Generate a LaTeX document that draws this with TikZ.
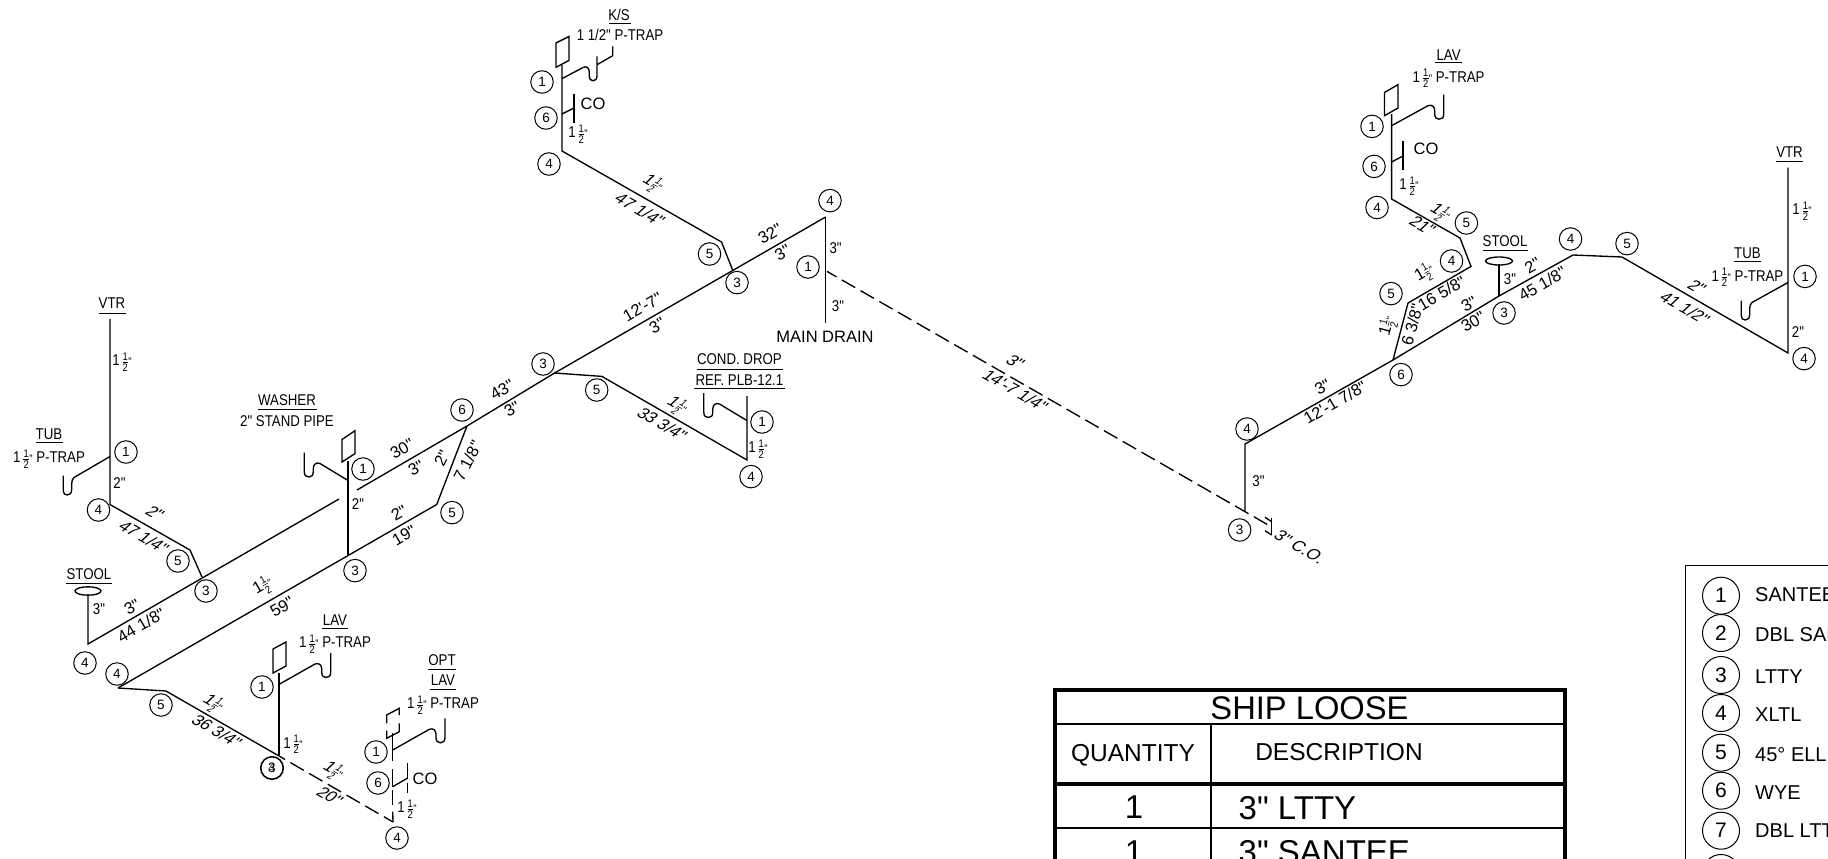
\documentclass[tikz,border=0pt]{standalone}
\usepackage{fontspec}
\setmainfont[Ligatures=TeXOff]{Liberation Sans}
\newfontfamily\nar[FakeStretch=0.85,Ligatures=TeXOff]{Liberation Sans}
\newcommand\fs[1]{\fontsize{#1}{#1}\selectfont}
\newcommand\hf{\makebox[6.2pt]{\nar\fs{11}\makebox[0pt]{\raisebox{5.6pt}{1}}\makebox[0pt]{\raisebox{-5.6pt}{2}}\makebox[0pt]{\rule[3.7pt]{5.5pt}{.5pt}}}}
\newcommand\oh{1\,\hf{\fs{11}"}}
\newcommand\ohr{1\hf{\fs{10}"}}
\tikzset{
  x=1pt,y=-1pt,
  pipe/.style={line width=1.35pt,line join=miter},
  dash1/.style={pipe,dash pattern=on 15.4pt off 6.2pt},
  bub/.style={circle,draw,line width=1pt,minimum size=22.5pt,inner sep=0pt,font=\fs{13.5}},
  lbub/.style={circle,draw,line width=1pt,minimum size=37pt,inner sep=0pt,font=\fs{21}},
  nm/.style={inner sep=0pt,font=\nar\fs{15.6}},
  wide/.style={inner sep=0pt,font=\fs{16.5}},
  up/.style={inner sep=0pt,font=\fs{16.5},rotate=30},
  dn/.style={inner sep=0pt,font=\fs{16.5},rotate=-30,xslant=.3},
  ul/.style={line width=1pt},
  tb/.style={line width=1.5pt},
  tbk/.style={line width=4pt},
  trapa/.pic={\draw[pic actions] (0,0) .. controls (-1.5,1.5) and (-2.3,3) .. (-2.3,6) -- (-2.3,11) .. controls (-2.3,16) and (-4,17.5) .. (-6.7,17.5) .. controls (-9.5,17.5) and (-10.7,16) .. (-10.7,13) -- (-10.7,-2);},
  trapb/.pic={\draw[pic actions] (0,0) .. controls (4,-1.5) and (6.7,1) .. (6.7,5) -- (6.7,8) .. controls (6.7,12) and (8.5,13.5) .. (11,13.5) .. controls (14,13.5) and (15.7,12) .. (15.7,8) -- (15.7,-11);},
}
\begin{document}
\begin{tikzpicture}
\useasboundingbox (0,0) rectangle (1828,859);
\clip (0,0) rectangle (1828,859);

% ---------- left riser group
\coordinate (vtrT) at (110,319); \coordinate (vtrB) at (110,504.5);
\coordinate (tubJ) at (110,456.5); \coordinate (tubA) at (74,477.5);
\coordinate (e1) at (190,550); \coordinate (t1) at (202,577);
\draw[pipe] (vtrT) -- (vtrB) -- (e1) -- (t1);
\draw[pipe] (tubJ) -- (tubA);
\pic[pipe] at (tubA) {trapa};
\node[nm] (tVtr) at (112,303) {VTR}; \draw[ul] (98.5,313) -- (126,313);
\node[nm] (tTub) at (49,434) {TUB}; \draw[ul] (36,442.5) -- (63,442.5);
\node[nm] (tTubT) at (49,459) {\oh\ P-TRAP};
\node[nm] (d1) at (122,362) {\oh};
\node[nm] (d2) at (119.5,483) {2"};
\node[dn] (d3) at (155,513) {2"};
\node[dn] (d4) at (144,537) {47 1/4"};
\node[bub] (b1) at (126,452) {1};
\node[bub] (b2) at (98.5,510) {4};
\node[bub] (b3) at (178,561) {5};
\node[bub] (b4) at (206,591) {3};

% stool + upper main
\coordinate (stT) at (88,594); \coordinate (stB) at (88,644);
\coordinate (mEndL) at (339,499); \coordinate (mGapR) at (357,490);
\coordinate (wyeL) at (467,426); \coordinate (c3m) at (554.6,373);
\coordinate (mainE) at (825.6,217);
\draw[pipe] (stT) -- (stB) -- (mEndL);
\draw[pipe] (mGapR) -- (wyeL) -- (c3m) -- (mainE);
\draw[pipe] (88,591) ellipse [x radius=13,y radius=4.2];
\node[nm] (tSt) at (89,574) {STOOL}; \draw[ul] (66,583) -- (112,583);
\node[nm] (d5) at (99,609) {3"};
\node[up] (d6) at (132,607) {3"};
\node[up] (d7) at (141,625) {44 1/8"};
\node[bub] (b5) at (85,663) {4};

% lower line with washer
\coordinate (l0) at (118,688); \coordinate (l1) at (436.7,504.5);
\draw[pipe] (l0) -- (l1) -- (wyeL);
\coordinate (wT) at (348,461); \coordinate (wB) at (348,555);
\draw[pipe] (wT) -- (wB);
\draw[pipe] (342,439.5) -- (355,430.7) -- (355,453.6) -- (342,462) -- cycle;
\coordinate (wJ) at (348,480.5); \coordinate (wA) at (320,463.5);
\draw[pipe] (wJ) -- (wA);
\pic[pipe,xscale=-1] at (wA) {trapb};
\node[nm] (tW) at (287,400) {WASHER}; \draw[ul] (258,409) -- (317,409);
\node[nm] (tW2) at (287,421) {2" STAND PIPE};
\node[nm] (d8) at (358,504.5) {2"};
\node[up] (d9) at (402,449) {30"};
\node[up] (d10) at (416,468) {3"};
\node[up,rotate=33] (d11) at (442,458) {2"};
\node[up,rotate=33] (d12) at (467.5,461) {7 1/8"};
\node[up] (d13) at (502,390) {43"};
\node[up] (d14) at (512,409) {3"};
\node[up] (d15) at (399,513) {2"};
\node[up] (d16) at (404,535.5) {19"};
\node[up] (d17) at (263,586) {\ohr};
\node[up] (d18) at (282,607) {59"};
\node[bub] (b6) at (363,469) {1};
\node[bub] (b7) at (462,410) {6};
\node[bub] (b8) at (452,512.6) {5};
\node[bub] (b9) at (355,570.6) {3};
\node[bub] (b10) at (117,674) {4};

% lower LAV
\coordinate (ll1) at (166,691); \coordinate (ll2) at (279,756);
\draw[pipe] (l0) -- (ll1) -- (ll2);
\coordinate (lvT) at (279,673);
\draw[pipe] (lvT) -- (ll2);
\draw[pipe] (273,649) -- (286,642) -- (286,666) -- (273,673) -- cycle;
\coordinate (lvJ) at (279,684.4); \coordinate (lvA) at (315,664);
\draw[pipe] (lvJ) -- (lvA);
\pic[pipe] at (lvA) {trapb};
\node[nm] (tL) at (335,620) {LAV}; \draw[ul] (322,628) -- (348,628);
\node[nm] (tL2) at (335,644) {\oh\ P-TRAP};
\node[nm] (d19) at (293,744.5) {\oh};
\node[dn] (d20) at (213,704) {\ohr};
\node[dn] (d21) at (217,731) {36 3/4"};
\node[bub] (b11) at (262,687) {1};
\node[bub] (b12) at (161,705) {5};
\node[bub,line width=1.5pt] (b13) at (272,768) {3};
\node[inner sep=0pt,font=\fs{13.5},text opacity=.7] (b13b) at (272,768) {4};

% optional LAV (dashed)
\coordinate (oC) at (279,756); \coordinate (oE) at (393,822);
\draw[dash1,dash phase=8.4pt] (oC) -- (oE);
\coordinate (oV1) at (392.7,733); \coordinate (oV2) at (392.7,760.7);
\coordinate (oV3) at (392.7,769.3); \coordinate (oV4) at (392.7,786.7);
\coordinate (oV5) at (392.7,790); \coordinate (oV6) at (392.7,805);
\coordinate (oV7) at (392.7,811.7);
\draw[pipe] (oV1) -- (oV2);
\draw[pipe] (oV3) -- (oV4);
\draw[pipe] (oV5) -- (oV6);
\draw[pipe] (oV7) -- (oE);
\draw[pipe] (386.7,723.3) -- (386.7,715) -- (399.3,708.3) -- (399.3,715);
\draw[pipe] (399.3,723.3) -- (399.3,731.7) -- (386.7,738.3) -- (386.7,730.7);
\coordinate (oJ) at (392.7,750); \coordinate (oA) at (429.3,729.3);
\draw[pipe] (oJ) -- (oA);
\pic[pipe] at (oA) {trapb};
\coordinate (oCoJ) at (392.7,786.7); \coordinate (oCoA) at (407.7,778);
\draw[pipe] (oCoJ) -- (oCoA);
\draw[pipe] (407.7,763) -- (407.7,778);
\draw[pipe] (407.7,783) -- (407.7,792.7);
\node[nm] (tO) at (442,660) {OPT}; \draw[ul] (428,669) -- (456,669);
\node[nm] (tO1) at (443,680.6) {LAV}; \draw[ul] (430,689) -- (456,689);
\node[nm] (tO2) at (443,705) {\oh\ P-TRAP};
\node[wide] (tO3) at (425,778.5) {CO};
\node[nm] (d22) at (407,809) {\oh};
\node[dn] (d23) at (333,771) {\ohr};
\node[dn] (d24) at (330,796) {20"};
\node[bub] (b14) at (376,752) {1};
\node[bub] (b15) at (378,783) {6};
\node[bub] (b16) at (397,838) {4};

% ---------- K/S group
\coordinate (ksT) at (562,65); \coordinate (ksB) at (562,151);
\coordinate (ks5) at (721.5,242); \coordinate (ks3) at (733,271);
\draw[pipe] (ksT) -- (ksB) -- (ks5) -- (ks3);
\draw[pipe] (556,43) -- (569,36.5) -- (569,60.4) -- (556,67.3) -- cycle;
\coordinate (ksJ) at (562,78.6); \coordinate (ksA) at (583.5,67.3);
\draw[pipe] (ksJ) -- (ksA);
\pic[pipe,xscale=.86] at (ksA) {trapb};
\coordinate (ksS) at (597,64.7); \coordinate (ksU) at (612.7,55.7); \coordinate (ksV) at (612.7,46.4);
\draw[pipe] (ksS) -- (ksU) -- (ksV);
\coordinate (ksCJ) at (562,114); \coordinate (ksCA) at (574,108);
\draw[pipe] (ksCJ) -- (ksCA);
\draw[line width=2pt] (574,93.5) -- (574,110);
\draw[pipe] (574,110) -- (574,122.7);
\node[nm] (tK) at (619,15) {K/S}; \draw[ul] (609,24) -- (631,24);
\node[nm] (tK2) at (620,35) {1 1/2" P-TRAP};
\node[wide] (tK3) at (593,104) {CO};
\node[nm] (d25) at (578,134) {\oh};
\node[dn] (d26) at (652.5,184) {\ohr};
\node[dn] (d27) at (640,209.6) {47 1/4"};
\node[bub] (b17) at (542,82) {1};
\node[bub] (b18) at (546,118) {6};
\node[bub] (b19) at (549,164) {4};
\node[bub] (b20) at (709.5,254) {5};
\node[bub] (b21) at (737,282.6) {3};

% ---------- main drain
\coordinate (mdB) at (825.6,323); \coordinate (mdJ) at (827,271.4);
\draw[pipe] (mainE) -- (mdB);
\node[up] (d28) at (770,234) {32"};
\node[up] (d29) at (782.5,252.7) {3"};
\node[up] (d30) at (642.5,307) {12'-7"};
\node[up] (d31) at (657,325.7) {3"};
\node[nm] (d32) at (835.6,248) {3"};
\node[nm] (d33) at (838,306) {3"};
\node[wide] (tM) at (825,336.6) {MAIN DRAIN};
\node[bub] (b22) at (830,200.6) {4};
\node[bub] (b23) at (808,267) {1};
\node[bub] (b24) at (543,364) {3};

% ---------- cond drop
\coordinate (cd1) at (602,376.4); \coordinate (cd2) at (747,460); \coordinate (cdT) at (747,396);
\draw[pipe] (c3m) -- (cd1) -- (cd2) -- (cdT);
\coordinate (cdJ) at (747,420.6); \coordinate (cdA) at (719.5,404);
\draw[pipe] (cdJ) -- (cdA);
\pic[pipe,xscale=-1] at (cdA) {trapb};
\node[nm] (tC) at (739.4,359) {COND. DROP}; \draw[ul] (696.6,369) -- (783,369);
\node[nm] (tC2) at (739.4,380) {REF. PLB-12.1}; \draw[ul] (694,388.7) -- (785,388.7);
\node[dn] (d34) at (677,406) {\ohr};
\node[dn] (d35) at (662.4,424) {33 3/4"};
\node[nm] (d36) at (758,449) {\oh};
\node[bub] (b25) at (596.7,390) {5};
\node[bub] (b26) at (762,422) {1};
\node[bub] (b27) at (751,476.6) {4};

% ---------- long dashed run
\coordinate (dsE) at (1271.7,527);
\draw[dash1,dash phase=4.5pt] (mdJ) -- (dsE);
\node[dn] (d37) at (1015.5,362) {3"};
\node[dn] (d38) at (1015.5,390.5) {14'-7 1/4"};

% ---------- right group
\coordinate (r0) at (1245,511.7); \coordinate (r1) at (1245,444);
\coordinate (r2) at (1393,360); \coordinate (r3) at (1499,296);
\coordinate (r4) at (1573,255); \coordinate (r5) at (1622,257);
\coordinate (r6) at (1788,353); \coordinate (r7) at (1788,167.5);
\draw[pipe] (r0) -- (r1) -- (r2) -- (r3) -- (r4) -- (r5) -- (r6) -- (r7);
\draw[pipe] (1271.7,518) -- (1271.7,535);
\draw[pipe] (1265,517.3) -- (1271.7,521.7);
\draw[pipe] (1265,530.7) -- (1271.7,535);
\node[nm] (d39) at (1258.5,481) {3"};
\node[bub] (b28) at (1239.6,530) {3};
\node[dn] (d40) at (1300,547) {3" C.O.};
\node[bub] (b29) at (1247,429) {4};
\node[up] (d41) at (1322.6,387) {3"};
\node[up] (d42) at (1335,402.5) {12'-1 7/8"};
\node[bub] (b30) at (1401,374.6) {6};

% branch
\coordinate (q1) at (1408,303); \coordinate (q2) at (1471,266.4);
\coordinate (q3) at (1460,238); \coordinate (q4) at (1391.6,199); \coordinate (q5) at (1391.6,114);
\draw[pipe] (r2) -- (q1) -- (q2) -- (q3) -- (q4) -- (q5);
\draw[pipe] (1384.5,92.5) -- (1398,84.6) -- (1398,108) -- (1384.5,115.7) -- cycle;
\coordinate (qJ) at (1391.6,125.7); \coordinate (qA) at (1428,105.7);
\draw[pipe] (qJ) -- (qA);
\pic[pipe] at (qA) {trapb};
\coordinate (qCJ) at (1391.6,162); \coordinate (qCA) at (1403,156);
\draw[pipe] (qCJ) -- (qCA);
\draw[pipe] (1403,140.7) -- (1403,170);
\node[nm] (tR) at (1448.6,55) {LAV}; \draw[ul] (1435,63) -- (1462,63);
\node[nm] (tR2) at (1448.6,78.5) {\oh\ P-TRAP};
\node[wide] (tR3) at (1426,149) {CO};
\node[nm] (d43) at (1409,186) {\oh};
\node[dn] (d44) at (1440,213) {\ohr};
\node[dn] (d45) at (1422.6,225.7) {21"};
\node[up] (d46) at (1424.6,273.6) {\ohr};
\node[up] (d47) at (1441.6,293) {16 5/8"};
\node[up,rotate=45] (d48) at (1388,326.4) {\ohr};
\node[up,rotate=45] (d49) at (1412,324.6) {6 3/8"};
\node[bub] (b31) at (1372,126.4) {1};
\node[bub] (b32) at (1374,166.4) {6};
\node[bub] (b33) at (1377,207.5) {4};
\node[bub] (b34) at (1466.4,223) {5};
\node[bub] (b35) at (1451.5,261) {4};
\node[bub] (b36) at (1391,293.6) {5};

% right stool
\coordinate (sr) at (1499,264);
\draw[pipe] (sr) -- (r3);
\draw[pipe] (1499,261) ellipse [x radius=13.5,y radius=4];
\node[nm] (tS) at (1505,241.4) {STOOL}; \draw[ul] (1482.5,250.7) -- (1528,250.7);
\node[nm] (d50) at (1510,279) {3"};
\node[up] (d51) at (1469,304) {3"};
\node[up] (d52) at (1473,322) {30"};
\node[up] (d53) at (1532.5,265.7) {2"};
\node[up] (d54) at (1542.4,283.6) {45 1/8"};
\node[bub] (b37) at (1504,313) {3};
\node[bub] (b38) at (1570.5,239) {4};
\node[bub] (b39) at (1627,243.6) {5};
\node[dn] (d55) at (1697,287) {2"};
\node[dn] (d56) at (1685,308) {41 1/2"};

% right tub
\coordinate (rtJ) at (1788,282.5); \coordinate (rtA) at (1752,302.5);
\draw[pipe] (rtJ) -- (rtA);
\pic[pipe] at (rtA) {trapa};
\node[nm] (tT) at (1747.4,253) {TUB}; \draw[ul] (1733.7,261.4) -- (1761.4,261.4);
\node[nm] (tT2) at (1747.4,277.4) {\oh\ P-TRAP};
\node[nm] (tV) at (1789.5,152) {VTR}; \draw[ul] (1776,161.4) -- (1803,161.4);
\node[nm] (d57) at (1802,211) {\oh};
\node[nm] (d58) at (1798,332) {2"};
\node[bub] (b40) at (1805,276.4) {1};
\node[bub] (b41) at (1804,358.6) {4};

% ---------- ship loose table
\draw[tbk] (1055,870) -- (1055,690) -- (1565,690) -- (1565,870);
\draw[tb] (1055,724) -- (1565,724);
\draw[tbk] (1055,784) -- (1565,784);
\draw[tb] (1055,828) -- (1565,828);
\draw[tb] (1211,724) -- (1211,870);
\node[inner sep=0pt,font=\fs{32.7}] (t1) at (1309.5,708.5) {SHIP LOOSE};
\node[inner sep=0pt,font=\fs{24.5}] (t2) at (1133,755) {QUANTITY};
\node[inner sep=0pt,font=\fs{24.5}] (t3) at (1339,752) {DESCRIPTION};
\node[inner sep=0pt,font=\fs{33}] (t4) at (1134,807) {1};
\node[inner sep=0pt,font=\fs{33},anchor=west] (t5) at (1238.5,808) {3" LTTY};
\node[inner sep=0pt,font=\fs{33}] (t6) at (1134,852) {1};
\node[inner sep=0pt,font=\fs{33},anchor=west] (t7) at (1238.5,852) {3" SANTEE};

% ---------- legend
\draw[tb] (1685.7,870) -- (1685.7,565.7) -- (1830,565.7);
\foreach \n/\y/\ty/\t in {1/595.7/595/SANTEE,2/633/635/DBL SANTEE,3/675/676.5/LTTY,4/713/714.5/XLTL,5/752.7/754.5/45° ELL,6/790.7/793/WYE,7/830.7/831/DBL LTTY}{
  \node[lbub] (k\n) at (1721,\y) {\n};
  \node[inner sep=0pt,anchor=west,font=\fs{20}] (kt\n) at (1755,\ty) {\t};
}
\node[lbub] (k8) at (1721,873) {};
\end{tikzpicture}
\end{document}
